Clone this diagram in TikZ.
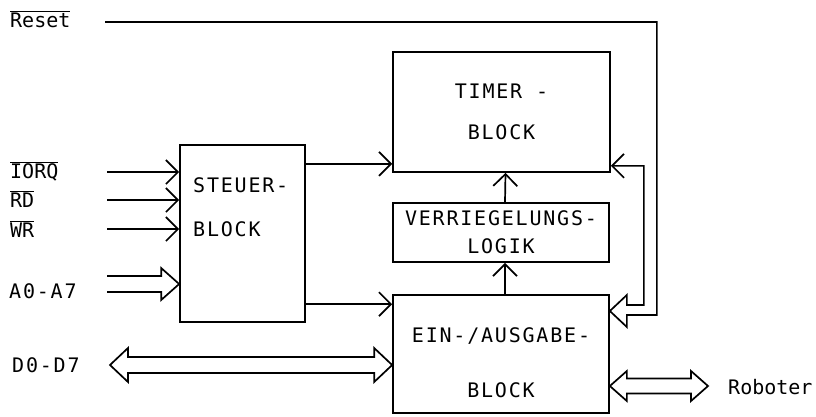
\documentclass[tikz,border=0pt]{standalone}
\usepackage{fontspec}
\usetikzlibrary{positioning,arrows.meta,calc}
\newfontfamily\spacedmono{DejaVu Sans Mono}[LetterSpace=9]
\newfontfamily\plainmono{DejaVu Sans Mono}
\newcommand\blkfont{\spacedmono\fontsize{20}{24}\selectfont}
\newcommand\lblfont{\plainmono\fontsize{20}{24}\selectfont}

\begin{document}
\begin{tikzpicture}[x=1pt, y=-1pt,
    blk/.style={draw, line width=1.7pt, inner sep=0pt, font=\blkfont, align=center},
    txt/.style={inner sep=0pt, font=\blkfont},
    lbl/.style={inner sep=0pt, font=\lblfont, anchor=base west},
    sig/.style={line width=1.7pt, -{Straight Barb[length=12pt,width=24pt]}},
    bus/.style={line width=1.7pt, line join=miter}
]
    \useasboundingbox (0,0) rectangle (816,416);

    % blocks
    \node[blk, minimum width=125pt, minimum height=177pt] (steuer) at (242.5,233.5) {};
    \node[blk, minimum width=217pt, minimum height=120pt] (timer) at (501.5,112) {TIMER -\\[17pt]BLOCK};
    \node[blk, minimum width=216pt, minimum height=59pt] (verr) at (501,232.5) {VERRIEGELUNGS-\\[4pt]LOGIK};
    \node[blk, minimum width=216pt, minimum height=118pt] (ein) at (501,354) {};

    \node[txt, anchor=north west, align=left] (steuerTxt) at (193,177) {STEUER-\\[20pt]BLOCK};
    \node[txt, anchor=north, align=center] (einTxt) at (ein.north |- 0,327) {EIN-/AUSGABE-\\[31pt]BLOCK};

    % signal names
    \node[lbl] (reset) at (10,27) {$\overline{\hbox{Reset}}$};
    \node[lbl] (iorq) at (10,178) {$\overline{\hbox{IORQ}}$};
    \node[lbl] (rd) at (10,207) {$\overline{\hbox{RD}}$};
    \node[lbl] (wr) at (10,237) {$\overline{\hbox{WR}}$};
    \node[lbl, font=\blkfont] (a07) at (9,298) {A0-A7};
    \node[lbl, font=\blkfont] (d07) at (12,372) {D0-D7};
    \node[lbl] (robo) at (728,394) {Roboter};

    \coordinate (stub) at (107,0);
    \coordinate (rsS) at (105,0);
    \coordinate (resetE) at ([yshift=5pt]reset.base east);
    \coordinate (iorqE) at ([yshift=6pt]iorq.base east);
    \coordinate (rdE) at ([yshift=7pt]rd.base east);
    \coordinate (wrE) at ([yshift=8pt]wr.base east);
    \coordinate (aS) at (107,284);
    \coordinate (aT) at (steuer.west |- aS);
    \coordinate (dL) at (110,365);
    \coordinate (dR) at (ein.west |- dL);
    \coordinate (rbL) at (ein.east |- 0,386);
    \coordinate (rbR) at (708,0 |- rbL);
    \coordinate (tIn) at ([yshift=9pt]timer.south west);
    \coordinate (eIn) at ([yshift=-10pt]ein.north west);
    \coordinate (tR) at ([yshift=7pt]timer.south east);
    \coordinate (rTip) at (ein.east |- 0,311);

    % control lines
    \draw[sig] (iorqE -| stub) -- (iorqE -| steuer.west);
    \draw[sig] (rdE -| stub) -- (rdE -| steuer.west);
    \draw[sig] (wrE -| stub) -- (wrE -| steuer.west);
    \draw[sig] (tIn -| steuer.east) -- (tIn);
    \draw[sig] (eIn -| steuer.east) -- (eIn);
    \draw[sig] ([xshift=4pt]ein.north) -- ([xshift=4pt]verr.south);
    \draw[sig] ([xshift=4pt]verr.north) -- ([xshift=4pt]timer.south);

    % reset loop
    \draw[sig, line join=miter] (resetE -| rsS) -| ($(rTip)+(47,4)$) -- ++(-30,0) -- ++(0,12)
        -- (rTip) -- ++(17,-16) -- ++(0,10) -| ($(tR)+(33,0)$) -- (tR);

    % buses
    \draw[bus] ($(aS)+(0,-8)$) -- ($(aT)+(-18,-8)$) -- ++(0,-8) -- (aT) -- ++(-18,16) -- ++(0,-8) -- ($(aS)+(0,8)$);
    \draw[bus] (dR) -- ++(-18,-17) -- ++(0,9) -- ($(dL)+(18,-8)$) -- ++(0,-9) -- (dL) -- ++(18,17)
        -- ++(0,-9) -- ($(dR)+(-18,8)$) -- ++(0,9) -- cycle;
    \draw[bus] (rbL) -- ++(17,-15) -- ++(0,7.5) -- ($(rbR)+(-17,-7.5)$) -- ++(0,-7.5) -- (rbR) -- ++(-17,15)
        -- ++(0,-7.5) -- ($(rbL)+(17,7.5)$) -- ++(0,7.5) -- cycle;
\end{tikzpicture}
\end{document}
